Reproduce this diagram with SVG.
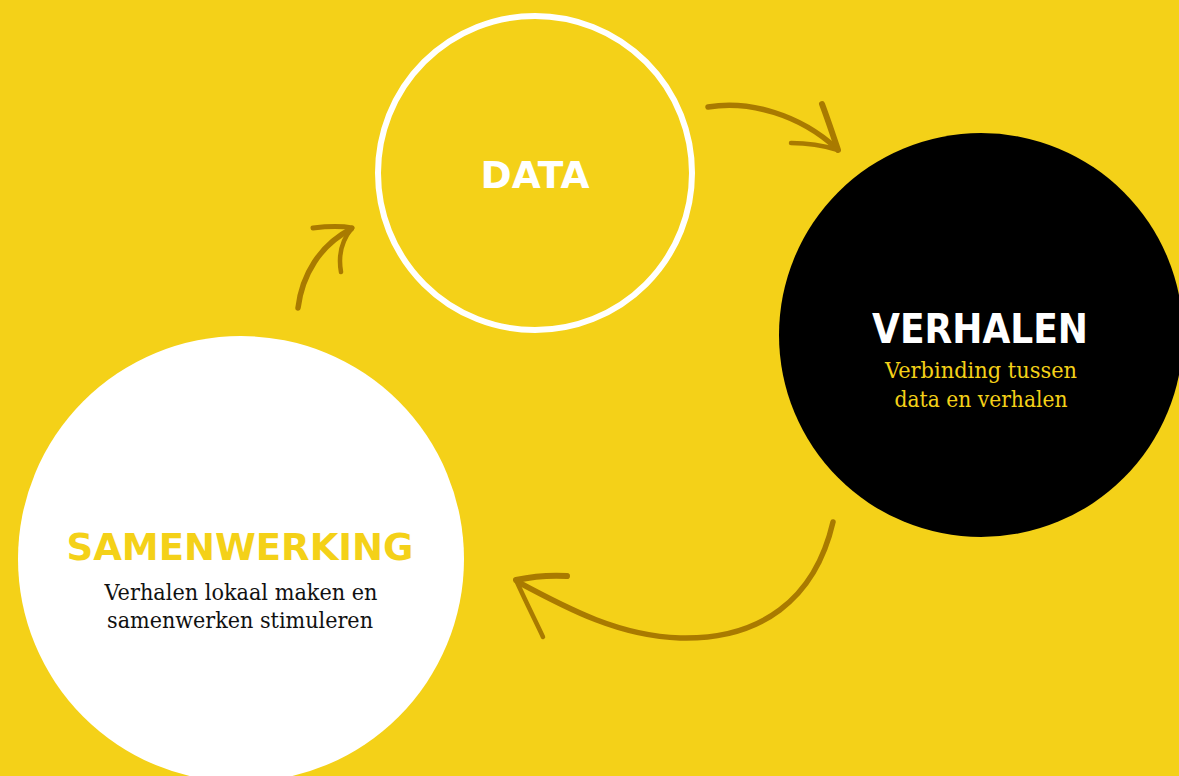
<svg xmlns="http://www.w3.org/2000/svg" width="1179" height="776" viewBox="0 0 1179 776">
<style>
.h{font-family:"DejaVu Sans",Verdana,sans-serif;font-weight:bold;text-anchor:middle}
.s{font-family:"DejaVu Serif",Georgia,serif;font-size:23px;text-anchor:middle}
.arr{fill:none;stroke:#a97a00;stroke-linecap:round;stroke-linejoin:round}
</style>
<rect width="1179" height="776" fill="#f4d118"/>
<g id="connectors">
  <path class="arr" stroke-width="5.5" d="M298,308 C302,275 320,245 351,229"/>
  <path class="arr" stroke-width="5" d="M313,228 C330,226 342,226 352,228"/>
  <path class="arr" stroke-width="4.5" d="M341,272 C338,255 342,240 352,228"/>
  <path class="arr" stroke-width="5.5" d="M708,107 C750,100 800,115 836,148"/>
  <path class="arr" stroke-width="6" d="M822,104 C828,120 833,135 838,150"/>
  <path class="arr" stroke-width="4.5" d="M791,143 C810,143 825,146 838,150"/>
  <path class="arr" stroke-width="5.5" d="M833,522 C815,600 760,640 680,638 C620,636 570,610 518,582"/>
  <path class="arr" stroke-width="6" d="M567,576 C550,575 530,577 516,580"/>
  <path class="arr" stroke-width="4.5" d="M543,637 C535,620 525,600 516,580"/>
</g>
<g id="data">
  <circle cx="535" cy="173" r="157" fill="none" stroke="#ffffff" stroke-width="6"/>
  <text class="h" x="535" y="188" font-size="38" fill="#ffffff" textLength="109" lengthAdjust="spacingAndGlyphs">DATA</text>
</g>
<g id="verhalen">
  <circle cx="981" cy="335" r="202" fill="#000000"/>
  <text class="h" x="980" y="343" font-size="41" fill="#ffffff" textLength="216" lengthAdjust="spacingAndGlyphs">VERHALEN</text>
  <text class="s" x="981" y="378" fill="#f4d118" textLength="192" lengthAdjust="spacingAndGlyphs">Verbinding tussen</text>
  <text class="s" x="981" y="407" fill="#f4d118" textLength="173" lengthAdjust="spacingAndGlyphs">data en verhalen</text>
</g>
<g id="samenwerking">
  <circle cx="241" cy="559" r="223" fill="#ffffff"/>
  <text class="h" x="240" y="560" font-size="37" fill="#f4d118" textLength="347" lengthAdjust="spacingAndGlyphs">SAMENWERKING</text>
  <text class="s" x="241" y="600" fill="#111111" textLength="273" lengthAdjust="spacingAndGlyphs">Verhalen lokaal maken en</text>
  <text class="s" x="240" y="628" fill="#111111" textLength="266" lengthAdjust="spacingAndGlyphs">samenwerken stimuleren</text>
</g>
</svg>
